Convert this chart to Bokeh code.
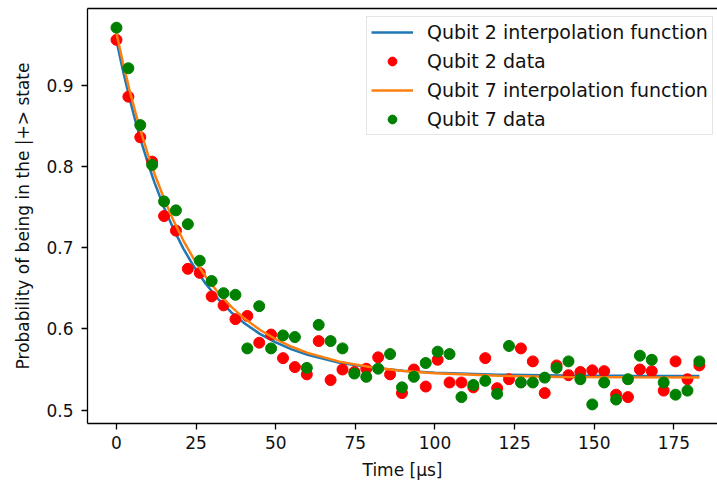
from bokeh.plotting import figure
from bokeh.models import Range1d, FixedTicker, LinearAxis, Legend, LegendItem
from bokeh.embed import file_html
from bokeh.resources import INLINE

# ---- data ----
times = [0.0, 3.73, 7.47, 11.2, 14.94, 18.67, 22.41, 26.14, 29.88, 33.61,
         37.35, 41.08, 44.82, 48.55, 52.29, 56.02, 59.76, 63.49, 67.22, 70.96,
         74.69, 78.43, 82.16, 85.9, 89.63, 93.37, 97.1, 100.84, 104.57, 108.31,
         112.04, 115.78, 119.51, 123.24, 126.98, 130.71, 134.45, 138.18, 141.92, 145.65,
         149.39, 153.12, 156.86, 160.59, 164.33, 168.06, 171.8, 175.53, 179.27, 183.0]

qubit2_data = [0.956, 0.886, 0.836, 0.806, 0.739, 0.721, 0.674, 0.669, 0.640, 0.629,
               0.612, 0.616, 0.583, 0.593, 0.564, 0.553, 0.544, 0.585, 0.537, 0.550,
               0.547, 0.551, 0.565, 0.544, 0.521, 0.550, 0.529, 0.562, 0.534, 0.534,
               0.528, 0.564, 0.527, 0.538, 0.576, 0.560, 0.521, 0.555, 0.543, 0.547,
               0.549, 0.548, 0.519, 0.516, 0.550, 0.548, 0.524, 0.560, 0.538, 0.555]

qubit7_data = [0.971, 0.921, 0.851, 0.802, 0.757, 0.746, 0.729, 0.684, 0.659, 0.644,
               0.642, 0.576, 0.628, 0.576, 0.592, 0.590, 0.552, 0.605, 0.585, 0.576,
               0.545, 0.541, 0.551, 0.569, 0.528, 0.541, 0.558, 0.572, 0.569, 0.516,
               0.531, 0.536, 0.520, 0.579, 0.534, 0.534, 0.540, 0.552, 0.560, 0.538,
               0.507, 0.534, 0.513, 0.538, 0.567, 0.562, 0.534, 0.519, 0.524, 0.560]

fit_times = [0, 2, 4, 6, 8, 10, 12, 15, 18, 21, 24, 28, 32, 36, 40, 45, 50, 55, 60,
             70, 80, 90, 100, 120, 140, 160, 183]
qubit2_fit = [0.955, 0.9186, 0.8855, 0.8552, 0.8277, 0.8025, 0.7796, 0.7489, 0.7222,
              0.6989, 0.6787, 0.6557, 0.6365, 0.6206, 0.6074, 0.5939, 0.5833, 0.5748,
              0.5680, 0.5584, 0.5524, 0.5485, 0.5461, 0.5436, 0.5427, 0.5422, 0.5421]
qubit7_fit = [0.964, 0.9284, 0.8958, 0.8659, 0.8385, 0.8134, 0.7905, 0.7596, 0.7325,
              0.7088, 0.6880, 0.6642, 0.6442, 0.6274, 0.6133, 0.5989, 0.5873, 0.5780,
              0.5705, 0.5597, 0.5527, 0.5482, 0.5453, 0.5422, 0.5409, 0.5404, 0.5401]

x_ticks = [0, 25, 50, 75, 100, 125, 150, 175]
y_ticks = [0.5, 0.6, 0.7, 0.8, 0.9]

FONT = "DejaVu Sans"

p = figure(width=717, height=488, output_backend="svg", toolbar_location=None,
           x_range=Range1d(-9.1, 188.7), y_range=Range1d(0.4835, 0.9946),
           min_border_left=87, min_border_right=0, min_border_top=8, min_border_bottom=65)
p.outline_line_color = None
p.grid.visible = False

r1 = p.line(fit_times, qubit2_fit, line_color="#1f77b4", line_width=2.5)
r2 = p.scatter(times, qubit2_data, size=11, fill_color="red", line_color="red")
r3 = p.line(fit_times, qubit7_fit, line_color="#ff7f0e", line_width=2.5)
r4 = p.scatter(times, qubit7_data, size=11, fill_color="green", line_color="green")

for ax in (p.xaxis[0], p.yaxis[0]):
    ax.axis_line_color = "black"
    ax.axis_line_width = 1.3
    ax.major_tick_line_color = "black"
    ax.major_tick_line_width = 1.3
    ax.major_tick_in = 0
    ax.major_tick_out = 6
    ax.minor_tick_line_color = None
    ax.major_label_text_font = FONT
    ax.major_label_text_font_size = "17px"
    ax.major_label_text_color = "#111111"
    ax.axis_label_text_font = FONT
    ax.axis_label_text_font_size = "17px"
    ax.axis_label_text_font_style = "normal"
    ax.axis_label_text_color = "#111111"

p.xaxis.ticker = FixedTicker(ticks=x_ticks)
p.yaxis.ticker = FixedTicker(ticks=y_ticks)
p.xaxis.axis_label = "Time [μs]"
p.yaxis.axis_label = "Probability of being in the |+> state"
p.xaxis.major_label_standoff = 6
p.yaxis.major_label_standoff = 8
p.xaxis.axis_label_standoff = 8
p.yaxis.axis_label_standoff = 10

top = LinearAxis(ticker=FixedTicker(ticks=[]), axis_line_color="black", axis_line_width=1.3,
                 major_tick_line_color=None, minor_tick_line_color=None,
                 major_label_standoff=0, axis_label_standoff=0)
p.add_layout(top, "above")

legend = Legend(items=[
    LegendItem(label="Qubit 2 interpolation function", renderers=[r1]),
    LegendItem(label="Qubit 2 data", renderers=[r2]),
    LegendItem(label="Qubit 7 interpolation function", renderers=[r3]),
    LegendItem(label="Qubit 7 data", renderers=[r4]),
], location=(279, 288))
legend.label_text_font = FONT
legend.label_text_font_size = "19px"
legend.label_text_color = "#111111"
legend.glyph_width = 42
legend.glyph_height = 22
legend.label_height = 22
legend.label_standoff = 14
legend.spacing = 7
legend.padding = 4
legend.margin = 0
legend.border_line_color = "#cccccc"
legend.border_line_width = 1
legend.background_fill_alpha = 0.8
p.add_layout(legend)

open("out.html", "w").write(file_html(p, INLINE))
